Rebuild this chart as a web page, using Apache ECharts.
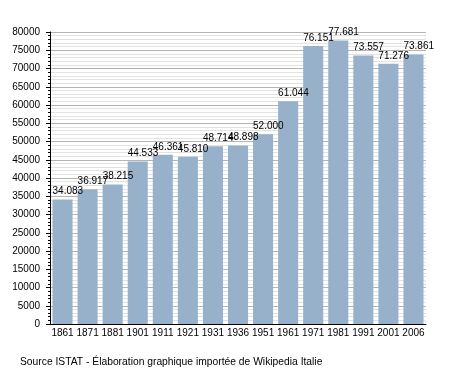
<!DOCTYPE html>
<html><head><meta charset="utf-8">
<script src="https://cdn.jsdelivr.net/npm/echarts@6/dist/echarts.min.js"></script>
<style>html,body{margin:0;padding:0;background:#fff}#c{width:455px;height:373px}</style>
</head><body><div id="c"></div>
<script>
const years = ['1861','1871','1881','1901','1911','1921','1931','1936','1951','1961','1971','1981','1991','2001','2006'];
const population = [34083,36917,38215,44533,46361,45810,48714,48898,52000,61044,76151,77681,73557,71276,73861];
const yTicks = {min:0, max:80000, interval:5000};
const footer = 'Source ISTAT - Élaboration graphique importée de Wikipedia Italie';

function fmt(v){return String(v).replace(/\B(?=(\d{3})+(?!\d))/g,'.');}

const chart = echarts.init(document.getElementById('c'), null, {renderer:'canvas'});
chart.setOption({
  animation:false,
  textStyle:{fontFamily:'Liberation Sans, Arial, sans-serif'},
  grid:{left:50,right:29,top:32,bottom:49},
  graphic:[{type:'text',left:20,top:357,style:{text:footer,font:'10.3px Liberation Sans, Arial, sans-serif',fill:'#000'}}],
  xAxis:{type:'category',data:years,
    axisLine:{lineStyle:{color:'#000',width:1}},
    axisTick:{show:false},
    axisLabel:{color:'#000',fontSize:10,margin:4,interval:0}},
  yAxis:{type:'value',min:yTicks.min,max:yTicks.max,interval:yTicks.interval,
    axisLine:{show:true,lineStyle:{color:'#000'}},
    axisTick:{show:true,length:4,lineStyle:{color:'#000'}},
    minorTick:{show:true,splitNumber:5,length:2,lineStyle:{color:'#000'}},
    splitLine:{lineStyle:{color:'#b4b4b4',width:1}},
    minorSplitLine:{show:true,lineStyle:{color:'#e2e2e2',width:1}},
    axisLabel:{color:'#000',fontSize:10,margin:10,formatter:v=>String(v)}},
  series:[{type:'bar',data:population,barCategoryGap:'20%',
    itemStyle:{color:'#97b1cb'},
    label:{show:true,position:[0,-13],align:'left',verticalAlign:'top',color:'#000',fontSize:10,
      formatter:p=>fmt(p.value)}}]
});
</script></body></html>
